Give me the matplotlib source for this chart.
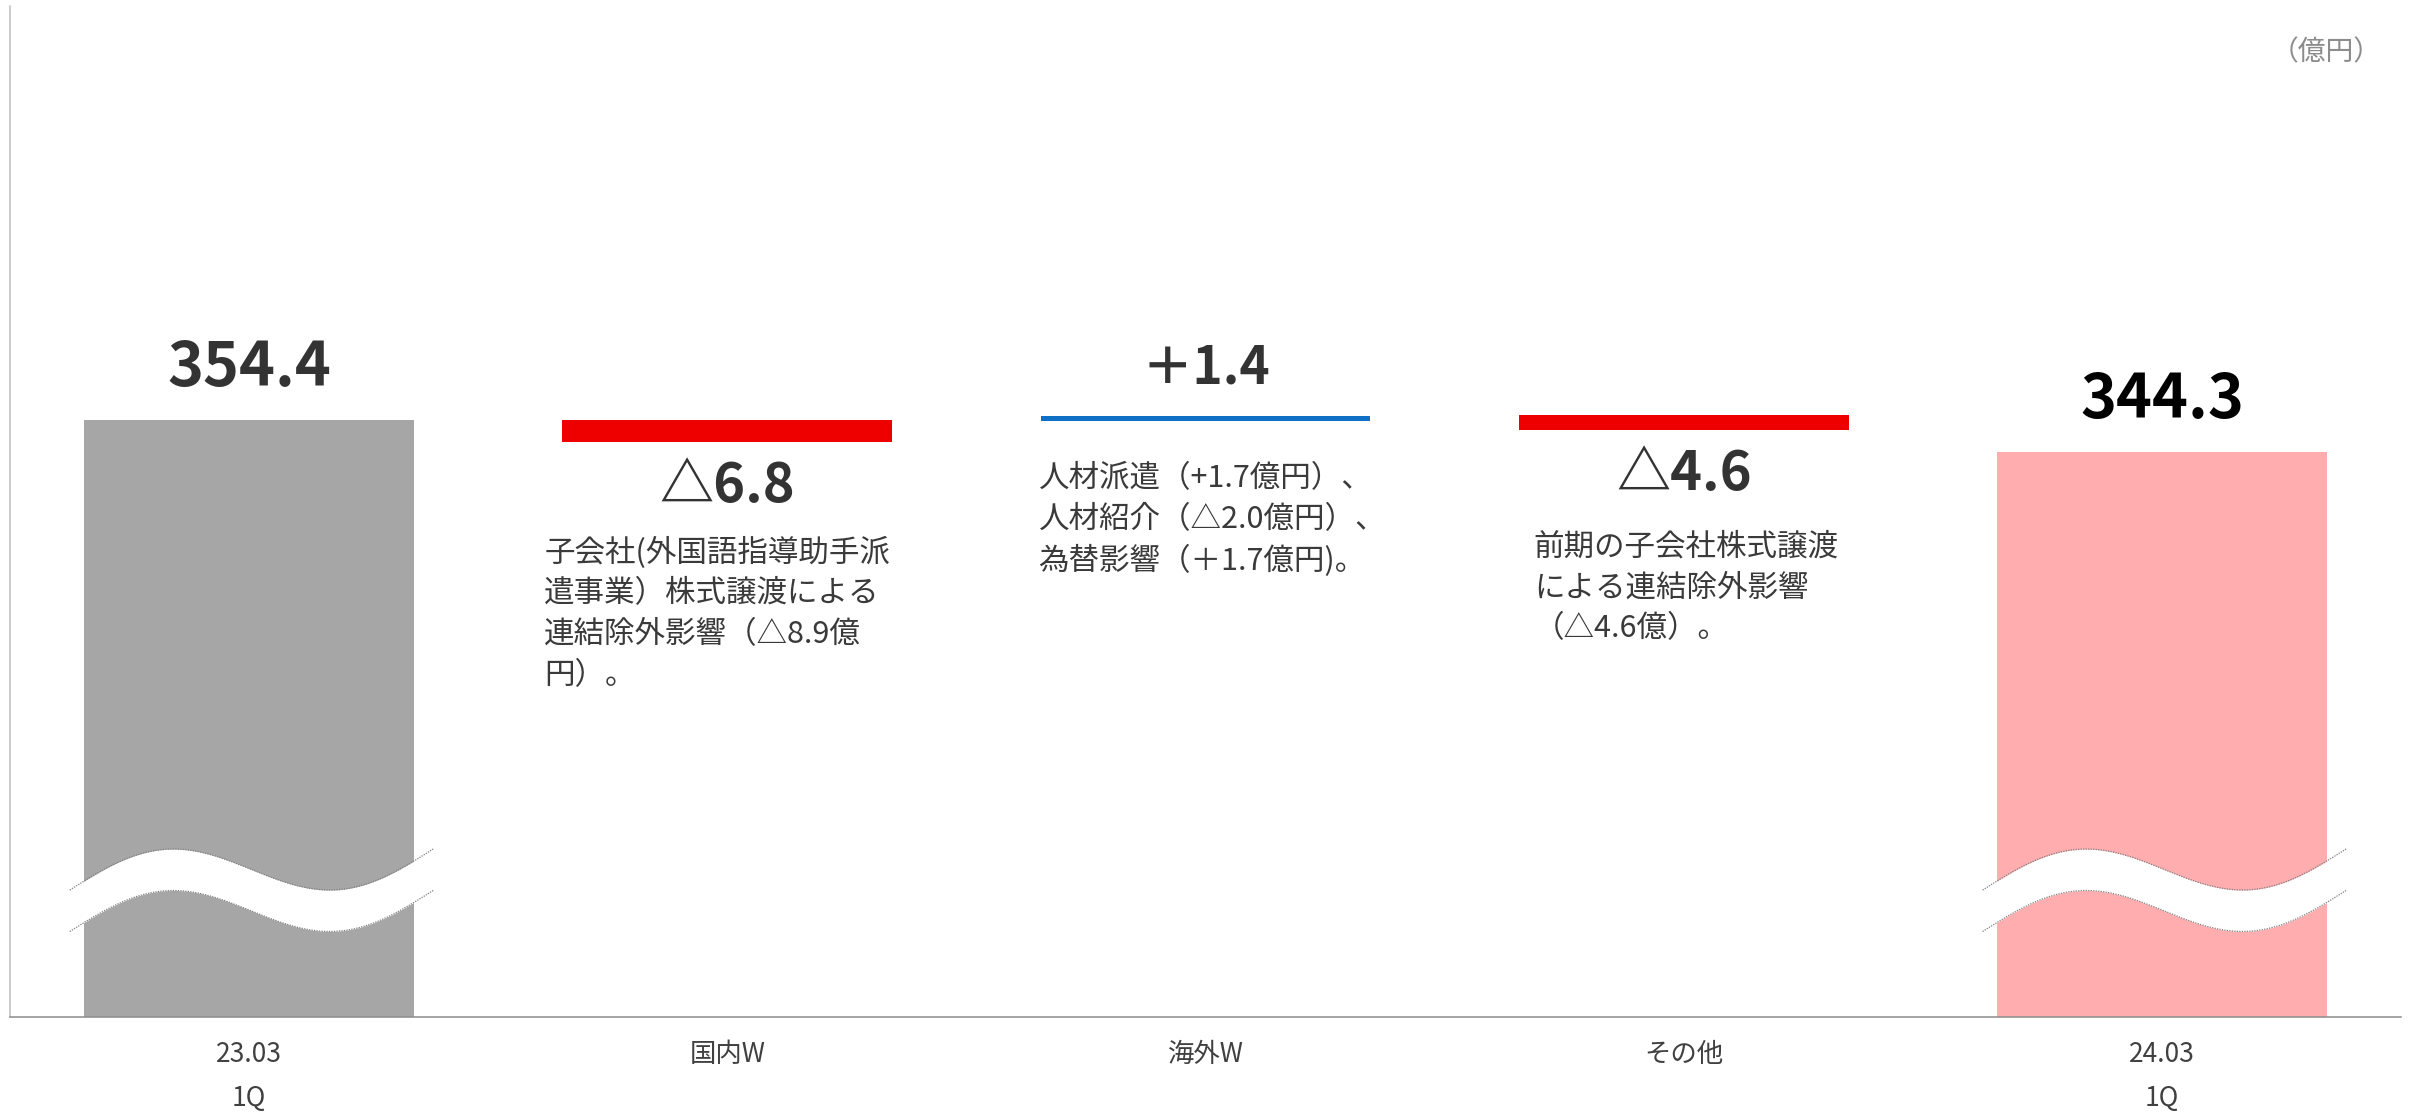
import numpy as np
import matplotlib.pyplot as plt
from matplotlib.transforms import blended_transform_factory

plt.rcParams['font.family'] = ['Noto Sans CJK JP', 'DejaVu Sans']

# data
categories = ['23.03\n1Q', '国内W', '海外W', 'その他', '24.03\n1Q']
start_value = 354.4
end_value = 344.3
deltas = [-6.8, 1.4, -4.6]
delta_labels = ['△6.8', '＋1.4', '△4.6']
# level each floating bar starts from, as drawn on the slide
float_start = [354.4, 354.1, 356.0]
notes = [
    '子会社(外国語指導助手派\n遣事業）株式譲渡による\n連結除外影響（△8.9億\n円）。',
    '人材派遣（+1.7億円）、\n人材紹介（△2.0億円）、\n為替影響（＋1.7億円)。',
    '前期の子会社株式譲渡\nによる連結除外影響\n（△4.6億）。',
]

note_offsets = [(-18, -95), (-2, -42), (15, -102)]

fig = plt.figure(figsize=(24.13, 11.12), dpi=100)
ax = fig.add_axes([0.00414, 0.0854, 0.9909, 0.9092])

w = 0.69
x = np.arange(len(categories))

# totals
ax.bar(x[0], start_value, width=w, color='#A6A6A6', zorder=2)
ax.bar(x[-1], end_value, width=w, color='#FFADAF', zorder=2)
ax.annotate(f'{start_value:.1f}', xy=(x[0], start_value), xytext=(0, 34),
            textcoords='offset pixels', ha='center', va='baseline',
            fontsize=44, fontweight='bold', color='#333333')
ax.annotate(f'{end_value:.1f}', xy=(x[-1], end_value), xytext=(0, 34),
            textcoords='offset pixels', ha='center', va='baseline',
            fontsize=44, fontweight='bold', color='#000000')

# floating bars
for i, (d, s) in enumerate(zip(deltas, float_start)):
    xi = x[i + 1]
    bottom = s + min(d, 0)
    col = '#EE0000' if d < 0 else '#1070C6'
    ax.bar(xi, abs(d), bottom=bottom, width=w, color=col, zorder=2)
    if d < 0:
        ax.annotate(delta_labels[i], xy=(xi, bottom), xytext=(0, -60),
                    textcoords='offset pixels', ha='center', va='baseline',
                    fontsize=39, fontweight='bold', color='#333333')
    else:
        ax.annotate(delta_labels[i], xy=(xi, bottom + d), xytext=(0, 33),
                    textcoords='offset pixels', ha='center', va='baseline',
                    fontsize=37, fontweight='bold', color='#333333')
    dx, dy = note_offsets[i]
    ax.annotate(notes[i], xy=(xi - w / 2, bottom), xytext=(dx, dy),
                textcoords='offset pixels', ha='left', va='top',
                fontsize=22, color='#3a3a3a', linespacing=1.4)

# wavy break marks on the total bars
trans = blended_transform_factory(ax.transData, ax.transAxes)
t = np.linspace(0, 1, 300)
for xc in (x[0], x[-1]):
    xs = xc - 0.375 + 0.76 * t
    upper = 0.1256 + 0.0406 * t + 0.0297 * np.sin(2 * np.pi * t)
    lower = upper - 0.041
    ax.fill_between(xs, lower, upper, color='white', lw=0, transform=trans, zorder=3)
    ax.plot(xs, upper, color='#808080', lw=0.9, ls=(0, (1, 1)), transform=trans, zorder=4)
    ax.plot(xs, lower, color='#808080', lw=0.9, ls=(0, (1, 1)), transform=trans, zorder=4)

ax.text(0.9918, 0.969, '（億円）', transform=ax.transAxes, ha='right', va='top',
        fontsize=20, color='#8c8c8c')

ax.set_xlim(-0.5, 4.5)
ax.set_ylim(167.8, 483.8)
ax.set_yticks([])
ax.set_xticks(x)
ax.set_xticklabels(categories)
ax.tick_params(axis='x', length=0, pad=17, labelsize=19, labelcolor='#404040')
for lbl in ax.get_xticklabels():
    lbl.set_linespacing(1.85)

ax.spines['top'].set_visible(False)
ax.spines['right'].set_visible(False)
ax.spines['left'].set_color('#bfbfbf')
ax.spines['left'].set_linewidth(1.1)
ax.spines['bottom'].set_color('#8c8c8c')
ax.spines['bottom'].set_linewidth(1.1)

fig.savefig('out.png', dpi=100)
